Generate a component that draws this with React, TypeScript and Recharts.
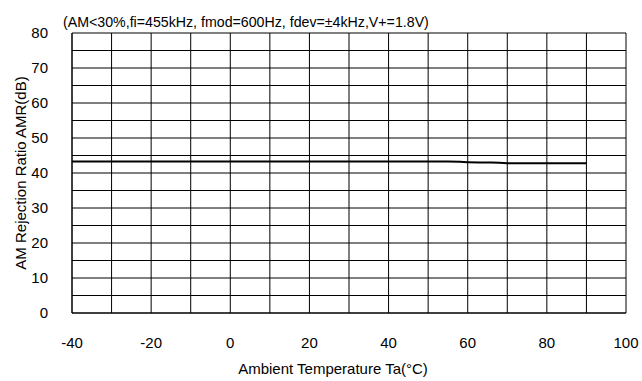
import React from 'react';
import { LineChart, Line, XAxis, YAxis, CartesianGrid, Label } from 'recharts';

const temperatures = [-40, -20, 0, 20, 40, 55, 58, 60, 63, 66, 68, 70, 80, 90];
const amrValues = [43.3, 43.3, 43.3, 43.3, 43.3, 43.3, 43.2, 43.1, 43.0, 43.0, 42.9, 42.8, 42.8, 42.8];

const xTicks = [-40, -30, -20, -10, 0, 10, 20, 30, 40, 50, 60, 70, 80, 90, 100];
const yTicks = [0, 5, 10, 15, 20, 25, 30, 35, 40, 45, 50, 55, 60, 65, 70, 75, 80];

const data = temperatures.map((t, i) => ({ t, amr: amrValues[i] }));

const font = 'Liberation Sans, Arial, sans-serif';

export default function App() {
  return (
    <div style={{ position: 'absolute', left: 0, top: 0, width: 642, height: 381, background: '#fff', fontFamily: font }}>
      <div style={{ position: 'absolute', left: 63, top: 14, fontSize: 14.2, lineHeight: '17px', color: '#000', whiteSpace: 'nowrap' }}>
        (AM&lt;30%,fi=455kHz, fmod=600Hz, fdev=±4kHz,V+=1.8V)
      </div>
      <LineChart
        width={642}
        height={381}
        data={data}
        margin={{ top: 33, right: 16, left: 32, bottom: 0 }}
      >
        <CartesianGrid stroke="#000" strokeWidth={1} />
        <XAxis
          dataKey="t"
          type="number"
          domain={[-40, 100]}
          ticks={xTicks}
          tickFormatter={(v: number) => (v % 20 === 0 ? String(v) : '')}
          tickLine={false}
          axisLine={{ stroke: '#000' }}
          tick={{ fill: '#000', fontSize: 15, fontFamily: font }}
          tickMargin={18}
          height={68}
          interval={0}
        >
          <Label
            value="Ambient Temperature Ta(°C)"
            position="insideBottom"
            offset={7}
            dx={-16}
            style={{ fill: '#000', fontSize: 15, fontFamily: font }}
          />
        </XAxis>
        <YAxis
          type="number"
          domain={[0, 80]}
          ticks={yTicks}
          tickFormatter={(v: number) => (v % 10 === 0 ? String(v) : '')}
          tickLine={false}
          axisLine={{ stroke: '#000' }}
          tick={{ fill: '#000', fontSize: 15, fontFamily: font }}
          tickMargin={18}
          width={40}
          interval={0}
        >
          <Label
            value="AM Rejection Ratio AMR(dB)"
            angle={-90}
            position="insideLeft"
            offset={-11}
            style={{ fill: '#000', fontSize: 15, fontFamily: font, textAnchor: 'middle' }}
          />
        </YAxis>
        <Line
          type="linear"
          dataKey="amr"
          stroke="#000"
          strokeWidth={2}
          dot={false}
          isAnimationActive={false}
        />
      </LineChart>
    </div>
  );
}
